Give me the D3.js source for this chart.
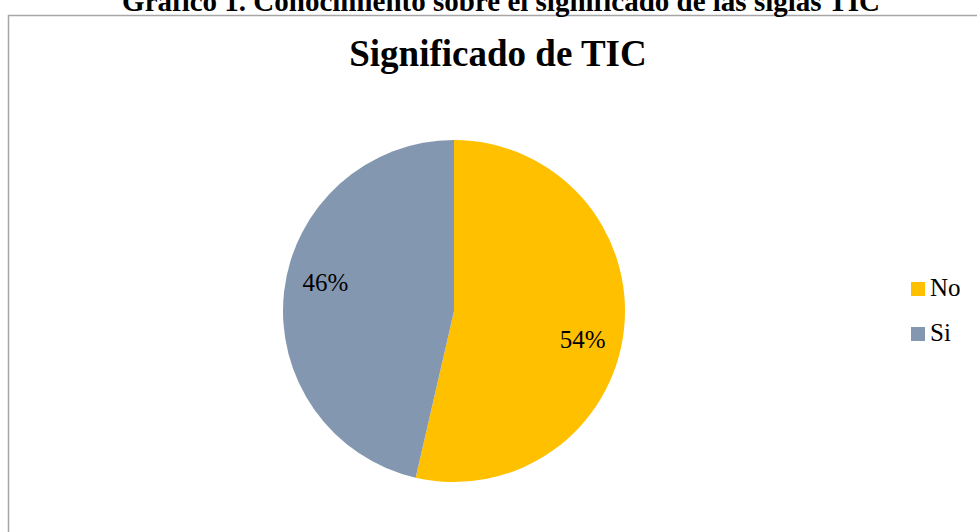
<!DOCTYPE html>
<html lang="es">
<head>
<meta charset="UTF-8">
<title>Significado de TIC</title>
<script src="https://cdn.jsdelivr.net/npm/d3@7"></script>
<style>
  html, body { margin: 0; padding: 0; background: #fff; }
  svg { display: block; font-family: "Liberation Serif", "Times New Roman", serif; }
</style>
</head>
<body>
<div id="chart"></div>
<script>
// datos
var categorias = ["No", "Si"];
var valores = [53.6, 46.4];
var colores = ["#FFC000", "#8497B0"];

var ancho = 977, alto = 532;
var centro = {x: 454, y: 311}, radio = 171;

var svg = d3.select("#chart").append("svg")
    .attr("width", ancho)
    .attr("height", alto);

// marco del grafico (sale del cuadro por la derecha y abajo)
svg.append("rect")
    .attr("x", 8.5).attr("y", 15.5)
    .attr("width", 1000).attr("height", 560)
    .attr("fill", "none")
    .attr("stroke", "#a6a6a6")
    .attr("stroke-width", 1.5);

// titulo del documento, cortado arriba
svg.append("text")
    .attr("x", 501).attr("y", 11)
    .attr("text-anchor", "middle")
    .attr("font-weight", "bold")
    .attr("font-size", 29)
    .text("Gráfico 1. Conocimiento sobre el significado de las siglas TIC");

// titulo del grafico
svg.append("text")
    .attr("x", 498).attr("y", 66)
    .attr("text-anchor", "middle")
    .attr("font-weight", "bold")
    .attr("font-size", 37)
    .text("Significado de TIC");

var pie = d3.pie().sort(null).value(function(d) { return d; });
var arcos = pie(valores);
var total = d3.sum(valores);

var arco = d3.arc().innerRadius(0).outerRadius(radio);

var g = svg.append("g")
    .attr("transform", "translate(" + centro.x + "," + centro.y + ")");

g.selectAll("path")
  .data(arcos)
  .enter().append("path")
    .attr("d", arco)
    .attr("fill", function(d, i) { return colores[i]; });

// etiquetas de porcentaje
g.selectAll("text.pct")
  .data(arcos)
  .enter().append("text")
    .attr("class", "pct")
    .attr("transform", function(d) {
      var a = (d.startAngle + d.endAngle) / 2 + 6 * Math.PI / 180;
      var p = d3.pointRadial(a, radio * 0.77);
      return "translate(" + p[0] + "," + p[1] + ")";
    })
    .attr("text-anchor", "middle")
    .attr("dy", "0.35em")
    .attr("font-size", 25)
    .attr("fill", "#000")
    .text(function(d) { return Math.round(d.value / total * 100) + "%"; });

// leyenda
var leyenda = svg.append("g")
    .attr("transform", "translate(911,282)");

var item = leyenda.selectAll("g")
  .data(categorias)
  .enter().append("g")
    .attr("transform", function(d, i) { return "translate(0," + (i * 45) + ")"; });

item.append("rect")
    .attr("width", 14).attr("height", 14)
    .attr("fill", function(d, i) { return colores[i]; });

item.append("text")
    .attr("x", 19).attr("y", 14)
    .attr("font-size", 25)
    .text(function(d) { return d; });
</script>
</body>
</html>
